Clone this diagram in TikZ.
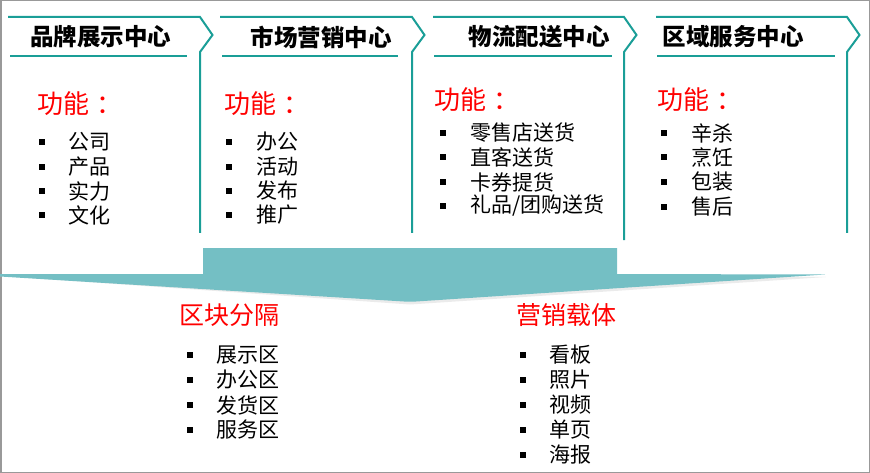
\documentclass[tikz,border=0pt]{standalone}
\usepackage{fontspec}
\newfontfamily\cjk{Noto Sans CJK SC}
\definecolor{tealline}{HTML}{1A9E97}
\definecolor{arrowfill}{HTML}{74BFC4}
\definecolor{redtxt}{HTML}{FF0000}
\begin{document}
\begin{tikzpicture}[x=1pt,y=-1pt,
  outline/.style={draw=tealline, line width=2pt, line join=miter},
  underline/.style={draw=tealline, line width=2.6pt},
  title/.style={font=\cjk\bfseries\fontsize{23.5}{26}\selectfont, inner sep=0},
  func/.style={font=\cjk\fontsize{26}{28}\selectfont, text=redtxt, anchor=west, inner sep=0},
  bigred/.style={font=\cjk\fontsize{25}{28}\selectfont, text=redtxt, anchor=west, inner sep=0},
  item/.style={font=\cjk\fontsize{21}{24}\selectfont, anchor=west, inner sep=0},
  bul/.style={fill=black, draw=none, minimum size=5.5pt, inner sep=0}
]
\useasboundingbox (0,0) rectangle (870,473);
\draw[black!40, line width=1.5pt] (0.75,0.75) rectangle (869.25,472.25);

% header outlines
\foreach \a/\b/\c/\d/\e/\v in {8/200/10/187/1/233, 220/412/222/398/2/233, 433/624/434/612/3/240, 656/847/657/835/4/233}{
  \draw[outline] (\a,17) -- (\b,17) -- (\b+12.5,35) -- (\b,52) -- (\b,\v);
  \draw[underline] (\c,56) -- (\d,56);
}

% titles
\node[title] (t1) at (101,37) {品牌展示中心};
\node[title] (t2) at (321,37) {市场营销中心};
\node[title] (t3) at (539,37) {物流配送中心};
\node[title] (t4) at (733,37) {区域服务中心};

% function labels
\node[func] (f1) at (37,104) {功能\kern7pt：};
\node[func] (f2) at (224,104) {功能\kern7pt：};
\node[func] (f3) at (434,100) {功能\kern7pt：};
\node[func] (f4) at (657,100) {功能\kern7pt：};

% column 1
\foreach \t/\y [count=\i] in {公司/142, 产品/167, 实力/191, 文化/215}{
  \node[bul] (b1\i) at (42,\y) {};
  \node[item] (i1\i) at (68,\y) {\t};
}
% column 2
\foreach \t/\y [count=\i] in {办公/142, 活动/167, 发布/191, 推广/215}{
  \node[bul] (b2\i) at (229,\y) {};
  \node[item] (i2\i) at (256,\y) {\t};
}
% column 3
\foreach \t/\y [count=\i] in {零售店送货/133, 直客送货/157, 卡券提货/182, {礼品/团购送货}/206}{
  \node[bul] (b3\i) at (443,\y) {};
  \node[item] (i3\i) at (470,\y) {\t};
}
% column 4
\foreach \t/\y [count=\i] in {辛杀/133, 烹饪/157, 包装/182, 售后/207}{
  \node[bul] (b4\i) at (664,\y) {};
  \node[item] (i4\i) at (691,\y) {\t};
}

% arrow shadow and arrow
\fill[black!8] (0,276) -- (203,276) -- (617,276) -- (826,277) -- (410,304.5) -- cycle;
\fill[arrowfill] (0,274) -- (203,274) -- (203,248) -- (617,248) -- (617,274) -- (825,274.5)
  -- (416,301.5) to[out=183,in=-3] (404,301.5) -- (0,276.5) -- cycle;

% bottom labels
\node[bigred] (l1) at (179,315) {区块分隔};
\node[bigred] (l2) at (516,315) {营销载体};

\foreach \t/\y [count=\i] in {展示区/355, 办公区/380, 发货区/405, 服务区/430}{
  \node[bul] (b5\i) at (190,\y) {};
  \node[item] (i5\i) at (216,\y) {\t};
}
\foreach \t/\y [count=\i] in {看板/355, 照片/380, 视频/405, 单页/430, 海报/455}{
  \node[bul] (b6\i) at (523,\y) {};
  \node[item] (i6\i) at (549,\y) {\t};
}
\end{tikzpicture}
\end{document}
